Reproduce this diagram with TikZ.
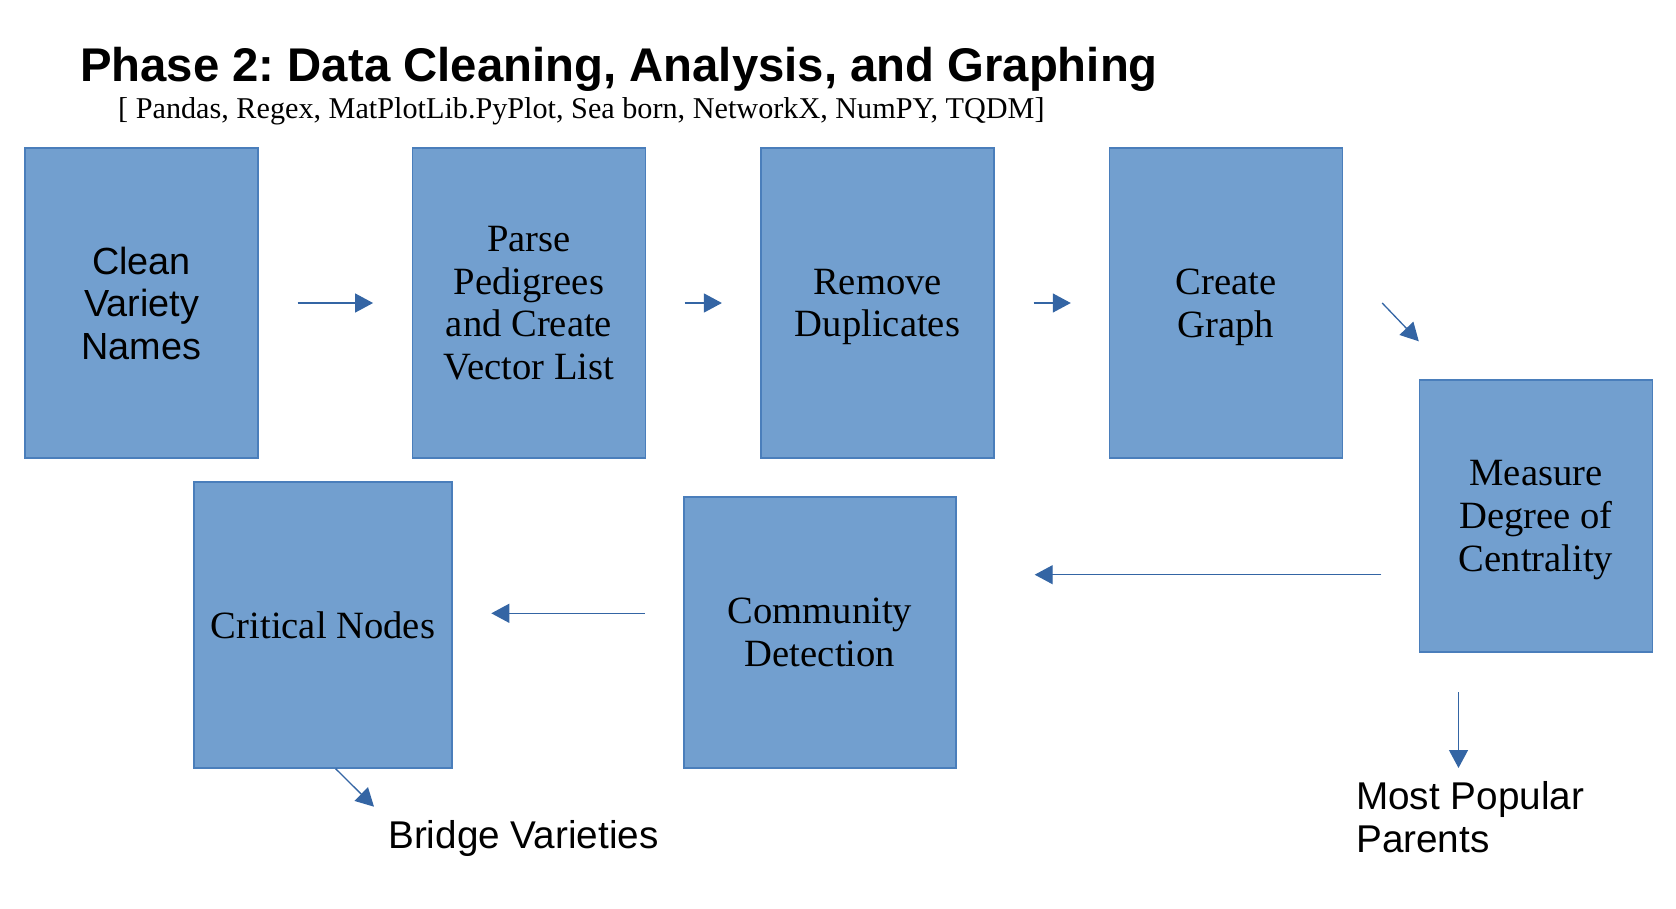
\documentclass[tikz,border=0pt]{standalone}
\usepackage{fontspec}
\setmainfont{Liberation Serif}
\setsansfont{Liberation Sans}
\usetikzlibrary{arrows.meta}
\frenchspacing
\definecolor{boxfill}{RGB}{114,159,207}
\definecolor{boxline}{RGB}{74,126,187}
\definecolor{arrblue}{RGB}{52,101,164}
\tikzset{
  stepbox/.style={draw=boxline, fill=boxfill, line width=1.4pt, inner sep=0pt, align=center,
    text depth=0pt, font=\fontsize{38.6}{42.7}\selectfont},
  arr/.style={draw=arrblue, line width=1.3pt, -{Triangle[length=18pt,width=19pt]}},
  lbl/.style={inner sep=0pt, font=\sffamily\fontsize{38.7}{42.7}\selectfont},
}
\begin{document}
\begin{tikzpicture}[x=1pt,y=-1pt]
\useasboundingbox (0,0) rectangle (1676,908);
% title
\node[inner sep=0pt, anchor=base west, font=\sffamily\bfseries\fontsize{47.3}{56}\selectfont] (title) at (80,81.7) {Phase 2: Data Cleaning, Analysis, and Graphing};
\node[inner sep=0pt, anchor=base west, font=\fontsize{30.2}{36}\selectfont] (libs) at (118,118) {[ Pandas, Regex, MatPlotLib.PyPlot, Sea born, NetworkX, NumPY, TQDM]};
% boxes
\node[stepbox, font=\sffamily\fontsize{37.8}{42.5}\selectfont, minimum width=233pt, minimum height=310pt] (clean) at (141.5,303) {Clean\\Variety\\Names};
\node[stepbox, minimum width=233pt, minimum height=310pt] (parse) at (529,303) {Parse\\Pedigrees\\and Create\\Vector List};
\node[stepbox, minimum width=233pt, minimum height=310pt] (remove) at (877.5,303) {Remove\\Duplicates};
\node[stepbox, minimum width=233pt, minimum height=310pt] (create) at (1226,303) {Create\\Graph};
\node[stepbox, minimum width=233pt, minimum height=272pt] (measure) at (1536,516) {Measure\\Degree of\\Centrality};
\node[stepbox, minimum width=272pt, minimum height=271pt] (community) at (820,632.5) {Community\\Detection};
\node[stepbox, minimum width=258pt, minimum height=286pt] (critical) at (323,625) {Critical Nodes};
% outputs
\node[lbl, anchor=base west] (bridge) at (388,848) {Bridge Varieties};
\node[lbl, anchor=base west, align=left] (popular) at (1356,852.3) {Most Popular\\Parents};
\coordinate (bridgein) at (374,806.7);
\coordinate (popularin) at (1458.5,768);
% connectors
\draw[arr, shorten <=39pt, shorten >=38.7pt] (clean.east) -- (parse.west);
\draw[arr, shorten <=38.4pt, shorten >=38.4pt] (parse.east) -- (remove.west);
\draw[arr, shorten <=39pt, shorten >=38pt] (remove.east) -- (create.west);
\draw[arr] ([xshift=39pt]create.east) -- ([yshift=38pt]measure.north west);
\draw[arr] ([xshift=-37.5pt,yshift=-58.7pt]measure.west) -- ([xshift=78pt,yshift=57.8pt]community.east);
\draw[arr] ([xshift=-38.4pt,yshift=19.2pt]community.west) -- ([xshift=38.6pt,yshift=11.7pt]critical.east);
\draw[arr] ([xshift=-77.5pt,yshift=-39.3pt]measure.south) -- (popularin);
\draw[arr] ([xshift=12.6pt]critical.south) -- (bridgein);
\end{tikzpicture}
\end{document}
